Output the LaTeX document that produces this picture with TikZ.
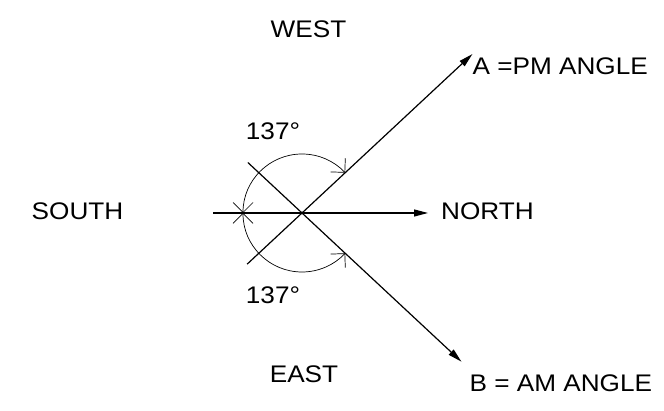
\documentclass[tikz,border=0pt]{standalone}
\usepackage{fontspec}
\setmainfont{Liberation Sans}[FakeStretch=1.09]
\usetikzlibrary{positioning,arrows.meta}

\begin{document}
\begin{tikzpicture}[
    x=1pt, y=1pt,
    lbl/.style={
        font=\fontsize{24}{28}\selectfont,
        inner sep=0pt
    },
    ray/.style={
        line width=1.2pt,
        -{Triangle[length=14pt,width=7pt]}
    },
    dim/.style={
        line width=0.7pt,
        {Straight Barb[length=10pt,width=20pt]}-{Straight Barb[length=10pt,width=20pt]}
    }
]
\useasboundingbox (0,0) rectangle (664,411);

% centre and ends of the lines
\coordinate (centre) at (302,198);
\coordinate (southend) at (213,198);
\coordinate (northtip) at (428,198);
\path (centre) ++(43:233) coordinate (pmtip);
\path (centre) ++(223:75) coordinate (pmtail);
\path (centre) ++(-43:218) coordinate (amtip);
\path (centre) ++(137:74) coordinate (amtail);
\coordinate (arcstart) at (243,198);

\draw[ray] (southend) -- (northtip);
\draw[ray] (pmtail) -- (pmtip);
\draw[ray] (amtail) -- (amtip);

% the two 137 degree angles
\draw[dim] (arcstart) arc[start angle=180, end angle=43, radius=59];
\draw[dim] (arcstart) arc[start angle=180, end angle=317, radius=59];

\node[lbl, left=89.5pt of southend, yshift=1.5pt] (south) {SOUTH};
\node[lbl, right=13pt of northtip, yshift=1.5pt] (north) {NORTH};
\node[lbl] (west) at (308.5,382) {WEST};
\node[lbl] (east) at (304,36.5) {EAST};
\node[lbl] (pmdeg) at (273,280) {137°};
\node[lbl] (amdeg) at (273,116) {137°};
\node[lbl, anchor=north west] (pmlabel) at ([yshift=-3pt]pmtip) {A =PM ANGLE};
\node[lbl, anchor=north west] (amlabel) at ([xshift=8pt,yshift=-13.3pt]amtip) {B = AM ANGLE};

\end{tikzpicture}
\end{document}
